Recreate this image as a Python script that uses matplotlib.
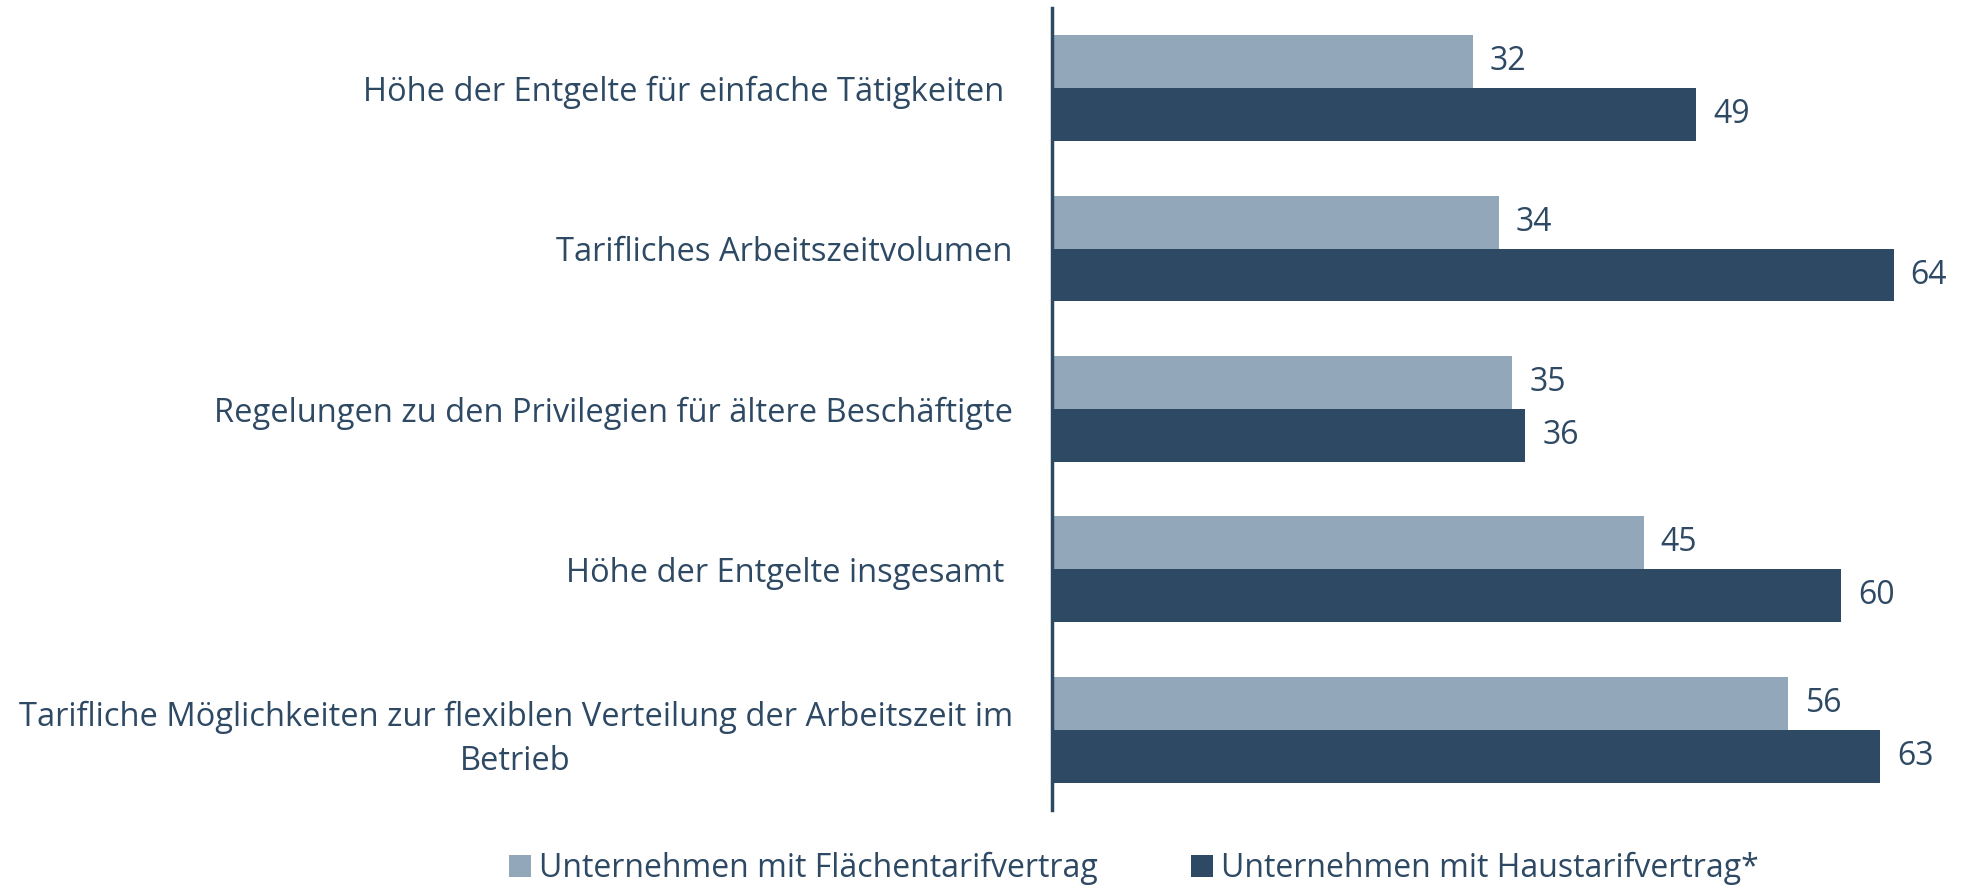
import numpy as np
import matplotlib.pyplot as plt

plt.rcParams['font.family'] = ['Open Sans', 'DejaVu Sans']

categories = [
    'Höhe der Entgelte für einfache Tätigkeiten ',
    'Tarifliches Arbeitszeitvolumen',
    'Regelungen zu den Privilegien für ältere Beschäftigte',
    'Höhe der Entgelte insgesamt ',
    'Tarifliche Möglichkeiten zur flexiblen Verteilung der Arbeitszeit im\nBetrieb',
]
flaechen = [32, 34, 35, 45, 56]
haus = [49, 64, 36, 60, 63]
series_names = ['Unternehmen mit Flächentarifvertrag', 'Unternehmen mit Haustarifvertrag*']

light = '#93a7ba'
dark = '#2e4963'
text_col = '#2e4963'
fs = 23

fig = plt.figure(figsize=(19.62, 8.88), dpi=100)
ax = fig.add_axes([0.536, 0.088, 0.464, 0.903])

y = np.arange(len(categories))
h = 0.33
b1 = ax.barh(y - h / 2, flaechen, height=h, color=light, label=series_names[0])
b2 = ax.barh(y + h / 2, haus, height=h, color=dark, label=series_names[1])

for bars in (b1, b2):
    for rect in bars:
        w = rect.get_width()
        ax.text(w + 1.3, rect.get_y() + rect.get_height() / 2, f'{w:.0f}',
                va='center', ha='left', fontsize=fs, color=text_col)

ax.set_xlim(0, 69.2)
ax.set_ylim(len(categories) - 0.5, -0.5)
ax.set_yticks(y)
ax.set_yticklabels(categories, fontsize=23.5, color=text_col,
                   multialignment='center', linespacing=1.45)
ax.tick_params(axis='y', length=0, pad=28)
ax.set_xticks([])
for s in ['top', 'right', 'bottom']:
    ax.spines[s].set_visible(False)
ax.spines['left'].set_color(dark)
ax.spines['left'].set_linewidth(2.5)

fig.legend(handles=[b1, b2], loc='center', bbox_to_anchor=(0.578, 0.022), ncol=2,
           frameon=False, fontsize=fs, labelcolor=text_col, handlelength=0.7,
           handleheight=0.7, handletextpad=0.25, columnspacing=2.9)

fig.savefig('out.png', dpi=100)
